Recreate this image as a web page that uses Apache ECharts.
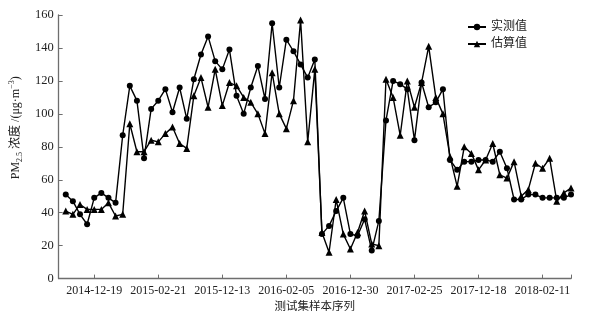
<!DOCTYPE html>
<html>
<head>
<meta charset="utf-8">
<script src="https://cdn.jsdelivr.net/npm/echarts@6/dist/echarts.min.js"></script>
<style type="text/css">
  * {
    margin: 0;
    padding: 0;
  }
</style>
</head>
<body>
<div id="chart" style="width: 615px;height: 318px;"></div>
<script type="text/javascript">
  // 测试集样本的日期标签，所在样本序号
  var tickLabels = ['2014-12-19', '2015-02-21', '2015-12-13', '2016-02-05', '2016-12-30', '2017-02-25', '2017-12-18', '2018-02-11']
  var tickPos = [5, 14, 23, 32, 41, 50, 59, 68]

  // 实测值
  var measured = [51, 47, 39, 33, 49, 52, 49, 46, 87, 117, 108, 73, 103, 108, 115, 101, 116, 97, 121, 136,
    147, 132, 127, 139, 111, 100, 116, 129, 109, 155, 116, 145, 138, 130, 122, 133, 27, 32, 41, 49,
    27, 26, 36, 17, 35, 96, 120, 118, 115, 84, 119, 104, 107, 115, 72, 66, 71, 71, 72, 72,
    71, 77, 67, 48, 48, 51, 51, 49, 49, 49, 49, 51]
  // 估算值
  var estimated = [41, 39, 45, 42, 42, 42, 46, 38, 39, 94, 77, 77, 84, 83, 88, 92, 82, 79, 111, 122,
    104, 127, 105, 119, 117, 110, 107, 100, 88, 125, 100, 91, 108, 157, 83, 127, 28, 16, 48, 27,
    18, 28, 41, 21, 20, 121, 110, 87, 120, 104, 119, 141, 110, 100, 74, 56, 80, 76, 66, 72,
    82, 63, 61, 71, 50, 54, 70, 67, 73, 47, 52, 55]

  function toPoints(arr) {
    return arr.map(function (v, i) {
      return [i + 1, v]
    })
  }

  var serif = '"Liberation Serif", "Noto Sans CJK SC", serif'
  var axisColor = '#6e6e6e'

  var myChart = echarts.init(document.getElementById('chart'))
  myChart.setOption({
    animation: false,
    backgroundColor: '#fff',
    grid: {
      left: 58,
      right: 44,
      top: 15,
      bottom: 39
    },
    legend: {
      orient: 'vertical',
      left: 462,
      top: 16,
      itemWidth: 18,
      itemHeight: 8,
      itemGap: 5,
      textStyle: {
        fontFamily: serif,
        fontSize: 12,
        color: '#222'
      },
      data: ['实测值', '估算值']
    },
    xAxis: {
      type: 'value',
      min: 0,
      max: 72,
      name: '测试集样本序列',
      nameLocation: 'middle',
      nameGap: 20,
      nameTextStyle: {
        fontFamily: serif,
        fontSize: 11.5,
        color: '#222'
      },
      splitLine: {show: false},
      axisLine: {lineStyle: {color: axisColor, width: 1.3}},
      axisTick: {
        inside: true,
        length: 4,
        customValues: tickPos.concat([72]),
        lineStyle: {color: axisColor}
      },
      axisLabel: {
        customValues: tickPos,
        margin: 6,
        fontFamily: serif,
        fontSize: 12,
        color: '#222',
        formatter: function (v) {
          var k = tickPos.indexOf(v)
          return k >= 0 ? tickLabels[k] : ''
        }
      }
    },
    yAxis: {
      type: 'value',
      min: 0,
      max: 160,
      interval: 20,
      name: '{t|PM}{s|2.5}{t| 浓度 /(μg·m}{p|−3}{t|)}',
      nameLocation: 'middle',
      nameRotate: 90,
      nameGap: 25,
      nameTextStyle: {
        padding: [0, 0, 0, 38],
        rich: {
          t: {fontFamily: serif, fontSize: 12, lineHeight: 16, color: '#222'},
          s: {fontFamily: serif, fontSize: 8, lineHeight: 16, verticalAlign: 'bottom', color: '#222'},
          p: {fontFamily: serif, fontSize: 8, lineHeight: 16, verticalAlign: 'top', color: '#222'}
        }
      },
      splitLine: {show: false},
      axisLine: {show: true, lineStyle: {color: axisColor, width: 1.3}},
      axisTick: {show: true, inside: true, length: 4, lineStyle: {color: axisColor}},
      axisLabel: {
        margin: 5,
        fontFamily: serif,
        fontSize: 12.5,
        color: '#222'
      }
    },
    series: [
      {
        name: '实测值',
        type: 'line',
        data: toPoints(measured),
        symbol: 'circle',
        symbolSize: 6,
        itemStyle: {color: '#000'},
        lineStyle: {color: '#000', width: 1.4}
      },
      {
        name: '估算值',
        type: 'line',
        data: toPoints(estimated),
        symbol: 'triangle',
        symbolSize: 7,
        itemStyle: {color: '#000'},
        lineStyle: {color: '#000', width: 1.4}
      }
    ]
  })
</script>
</body>
</html>
